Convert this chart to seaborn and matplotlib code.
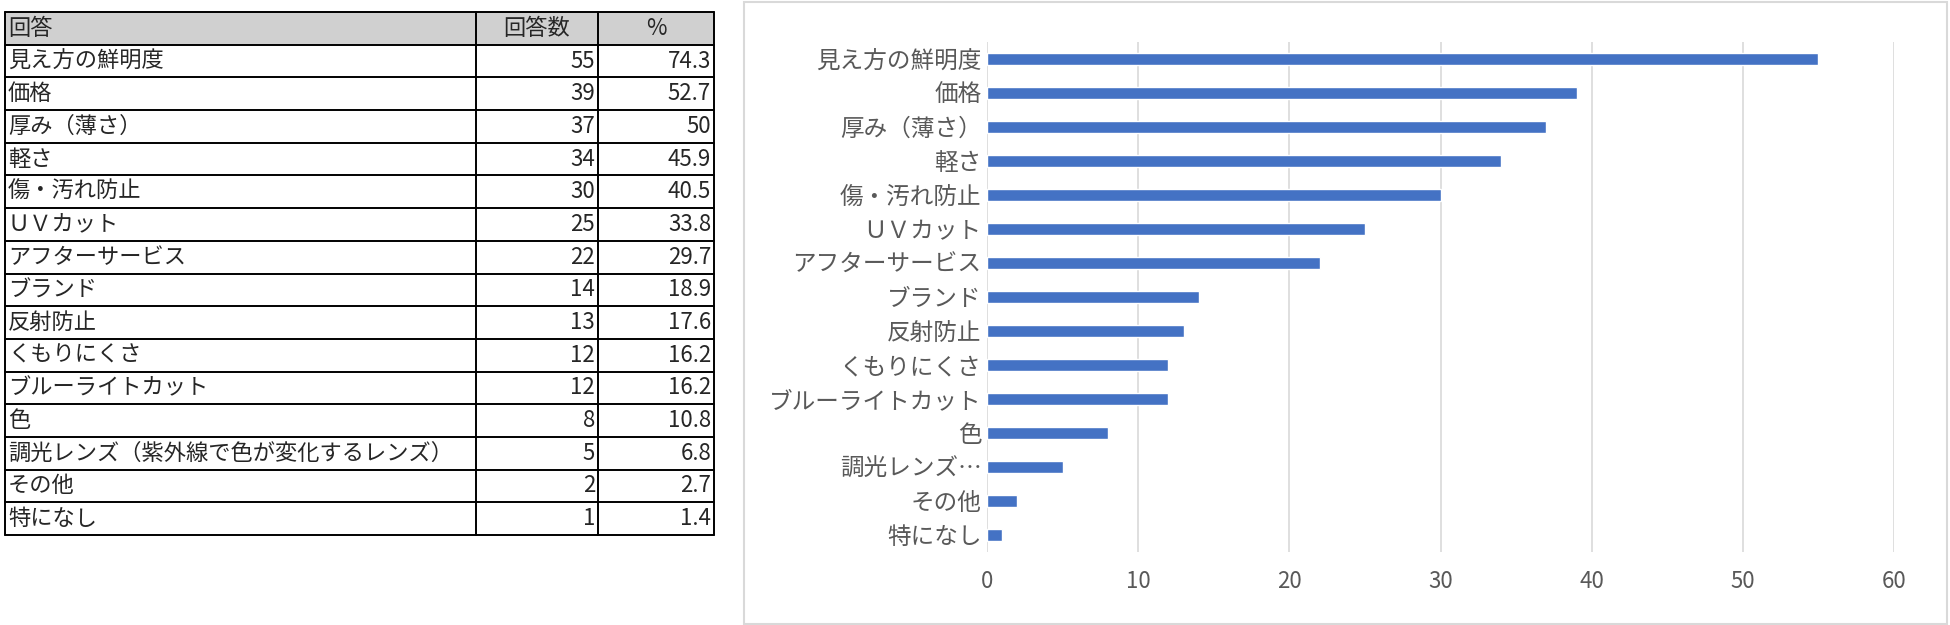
import matplotlib
matplotlib.use('Agg')
import matplotlib.pyplot as plt
from matplotlib.patches import Rectangle
import seaborn as sns
import pandas as pd

answers = ['見え方の鮮明度', '価格', '厚み（薄さ）', '軽さ', '傷・汚れ防止', 'ＵＶカット',
           'アフターサービス', 'ブランド', '反射防止', 'くもりにくさ', 'ブルーライトカット',
           '色', '調光レンズ（紫外線で色が変化するレンズ）', 'その他', '特になし']
counts = [55, 39, 37, 34, 30, 25, 22, 14, 13, 12, 12, 8, 5, 2, 1]
percents = [74.3, 52.7, 50, 45.9, 40.5, 33.8, 29.7, 18.9, 17.6, 16.2, 16.2, 10.8, 6.8, 2.7, 1.4]
headers = ['回答', '回答数', '%']
x_ticks = [0, 10, 20, 30, 40, 50, 60]

sns.set_style('white')
plt.rcParams['font.family'] = ['Noto Sans CJK JP', 'DejaVu Sans']

W, H = 1950, 625
fig = plt.figure(figsize=(W / 100, H / 100), dpi=100)

# --- table on the left ---
ax_t = fig.add_axes([5 / W, 1 - 535 / H, 709 / W, 523 / H])
ax_t.set_xlim(0, 709)
ax_t.set_ylim(len(answers) + 1, 0)
ax_t.axis('off')
cols = [0, 471, 593, 709]
nrows = len(answers) + 1
ax_t.add_patch(Rectangle((0, 0), 709, 1, facecolor='#D0D0D0', edgecolor='none'))
for r in range(nrows + 1):
    ax_t.plot([0, 709], [r, r], color='black', lw=1.4, clip_on=False)
for c in cols:
    ax_t.plot([c, c], [0, nrows], color='black', lw=1.4, clip_on=False)

fs = 16
ax_t.text(3, 0.5, headers[0], ha='left', va='center', fontsize=fs)
ax_t.text((cols[1] + cols[2]) / 2, 0.5, headers[1], ha='center', va='center', fontsize=fs)
ax_t.text((cols[2] + cols[3]) / 2, 0.5, headers[2], ha='center', va='center', fontsize=fs)
for i, (a, n, p) in enumerate(zip(answers, counts, percents)):
    y = i + 1.5
    ax_t.text(3, y, a, ha='left', va='center', fontsize=fs)
    ax_t.text(cols[2] - 3, y, str(n), ha='right', va='center', fontsize=fs)
    ax_t.text(cols[3] - 3, y, '{:g}'.format(p), ha='right', va='center', fontsize=fs)

# --- chart panel border ---
fig.add_artist(Rectangle((744 / W, 1 / H), 1203 / W, 622 / H, transform=fig.transFigure,
                         facecolor='none', edgecolor='#D9D9D9', lw=1.5))

# --- bar chart ---
labels = [a if len(a) <= 10 else a[:5] + '…' for a in answers]
df = pd.DataFrame({'label': labels, 'count': counts})

ax = fig.add_axes([987 / W, 1 - 552 / H, 907 / W, 510 / H])
sns.barplot(data=df, y='label', x='count', orient='h', color='#4472C4',
            saturation=1, width=0.33, ax=ax)
ax.set_xlim(0, 60)
ax.set_ylim(len(labels) - 0.5, -0.5)
ax.set_xticks(x_ticks)
ax.set_xlabel('')
ax.set_ylabel('')
ax.grid(axis='x', color='#D9D9D9', lw=1.2)
ax.set_axisbelow(True)
for s in ax.spines.values():
    s.set_visible(False)
ax.tick_params(axis='both', length=0, colors='#595959')
ax.tick_params(axis='y', labelsize=17, pad=4)
ax.tick_params(axis='x', labelsize=16, pad=13)

fig.savefig('out.png', dpi=100)
